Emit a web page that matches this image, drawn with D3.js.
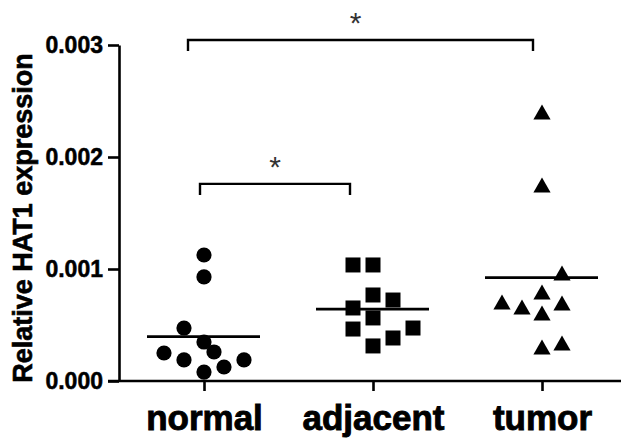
<!doctype html>
<html lang="en">
<head>
    <meta charset="utf-8">
    <title>Relative HAT1 expression</title>
    <script src="https://d3js.org/d3.v7.min.js"></script>
    <style>
        body { margin: 0; padding: 0; background: #ffffff; }
        svg { display: block; }
        text { font-family: 'Liberation Sans', Arial, sans-serif; }
    </style>
</head>
<body>
    <div class="chart"></div>
    <script>
        // data
        const groups = ["normal", "adjacent", "tumor"];
        const normal = [0.001125, 0.000929, 0.000473, 0.000348, 0.000259, 0.000250, 0.000188, 0.000188, 0.000125, 0.000080];
        const adjacent = [0.001036, 0.001036, 0.000768, 0.000652, 0.000723, 0.000563, 0.000464, 0.000473, 0.000384, 0.000313];
        const tumor = [0.002402, 0.00175, 0.000964, 0.000795, 0.000705, 0.000661, 0.000696, 0.000607, 0.000304, 0.000339];
        // horizontal slot of each point inside its column (scatter spread)
        const normalSlot = [0, 0, -2, 0, 1, -4, -2, 4, 2, 0];
        const adjacentSlot = [-2, 0, 0, -2, 2, 0, -2, 4, 2, 0];
        const tumorSlot = [0, 0, 2, 0, -4, -2, 2, 0, 0, 2];
        const yTicks = [0, 0.001, 0.002, 0.003];
        // significance brackets: [from group, to group, label]
        const brackets = [["normal", "adjacent", "*"], ["normal", "tumor", "*"]];
        const bracketLevel = [0.00176, 0.003045];

        const values = [normal, adjacent, tumor];
        const slots = [normalSlot, adjacentSlot, tumorSlot];

        const width = 621, height = 440;
        const svg = d3.select(".chart").append("svg")
            .attr("width", width)
            .attr("height", height);

        const y = d3.scaleLinear().domain([0, 0.003]).range([381, 45]);
        const x = d3.scalePoint().domain(groups).range([204, 542]);
        const slotW = 10;
        // how far each bracket end sits inside its column centre
        const bracketInset = [[4, 23], [16, 9]];

        // y axis
        const yAxis = svg.append("g")
            .attr("transform", "translate(119,0)")
            .call(d3.axisLeft(y).tickValues(yTicks).tickFormat(d3.format(".3f")).tickSize(11).tickSizeOuter(0).tickPadding(5));
        yAxis.select(".domain").attr("stroke", "#000").attr("stroke-width", 2.6);
        yAxis.selectAll(".tick line").attr("stroke", "#000").attr("stroke-width", 2.6);
        yAxis.selectAll(".tick text")
            .attr("fill", "#000")
            .attr("stroke", "#000")
            .attr("stroke-width", 0.5)
            .style("font-size", "23px")
            .style("font-weight", "bold");

        // x axis: long baseline plus category ticks
        svg.append("line")
            .attr("x1", 108).attr("x2", width)
            .attr("y1", y(0)).attr("y2", y(0))
            .attr("stroke", "#000").attr("stroke-width", 2.6);
        const xAxis = svg.append("g")
            .attr("transform", `translate(0,${y(0)})`)
            .call(d3.axisBottom(x).tickSize(10).tickSizeOuter(0).tickPadding(14));
        xAxis.select(".domain").remove();
        xAxis.selectAll(".tick line").attr("stroke", "#000").attr("stroke-width", 2.6);
        xAxis.selectAll(".tick text")
            .attr("fill", "#000")
            .attr("stroke", "#000")
            .attr("stroke-width", 0.9)
            .attr("dy", "0.71em")
            .style("font-size", "35px")
            .style("font-weight", "bold");

        // y label
        svg.append("text")
            .attr("transform", "translate(32,218) rotate(-90)")
            .attr("text-anchor", "middle")
            .attr("stroke", "#000")
            .attr("stroke-width", 0.6)
            .style("font-size", "27px")
            .style("font-weight", "bold")
            .text("Relative HAT1 expression");

        // triangle centred on its box, not on its centroid
        const boxTriangle = {
            draw(ctx, size) {
                const h = Math.sqrt(size * 4 / Math.sqrt(3)) * Math.sqrt(3) / 2;
                const w = h * 2 / Math.sqrt(3);
                ctx.moveTo(0, -h / 2);
                ctx.lineTo(w / 2, h / 2);
                ctx.lineTo(-w / 2, h / 2);
                ctx.closePath();
            }
        };
        const shapes = [
            d3.symbol(d3.symbolCircle, Math.PI * 7.6 * 7.6),
            d3.symbol(d3.symbolSquare, 15 * 15),
            d3.symbol(boxTriangle, 17 * 15 / 2)
        ];

        groups.forEach((g, gi) => {
            const pts = values[gi].map((v, i) => ({v: v, s: slots[gi][i]}));
            svg.append("g").selectAll("path")
                .data(pts)
                .enter()
                .append("path")
                .attr("d", shapes[gi])
                .attr("transform", d => `translate(${x(g) + d.s * slotW},${y(d.v)})`)
                .attr("fill", "#000");

            // mean line
            const m = d3.mean(values[gi]);
            svg.append("line")
                .attr("x1", x(g) - 57).attr("x2", x(g) + 56)
                .attr("y1", y(m)).attr("y2", y(m))
                .attr("stroke", "#000").attr("stroke-width", 2.8);
        });

        // significance brackets
        brackets.forEach((b, i) => {
            const x1 = x(b[0]) - bracketInset[i][0], x2 = x(b[1]) - bracketInset[i][1];
            const by = y(bracketLevel[i]);
            svg.append("path")
                .attr("d", `M${x1},${by + 11}V${by}H${x2}V${by + 11}`)
                .attr("fill", "none")
                .attr("stroke", "#000")
                .attr("stroke-width", 2.4);
            svg.append("text")
                .attr("x", (x1 + x2) / 2 - (i ? 5 : 0))
                .attr("y", by - 7)
                .attr("text-anchor", "middle")
                .attr("fill", "#333")
                .style("font-size", "30px")
                .text(b[2]);
        });
    </script>
</body>
</html>
